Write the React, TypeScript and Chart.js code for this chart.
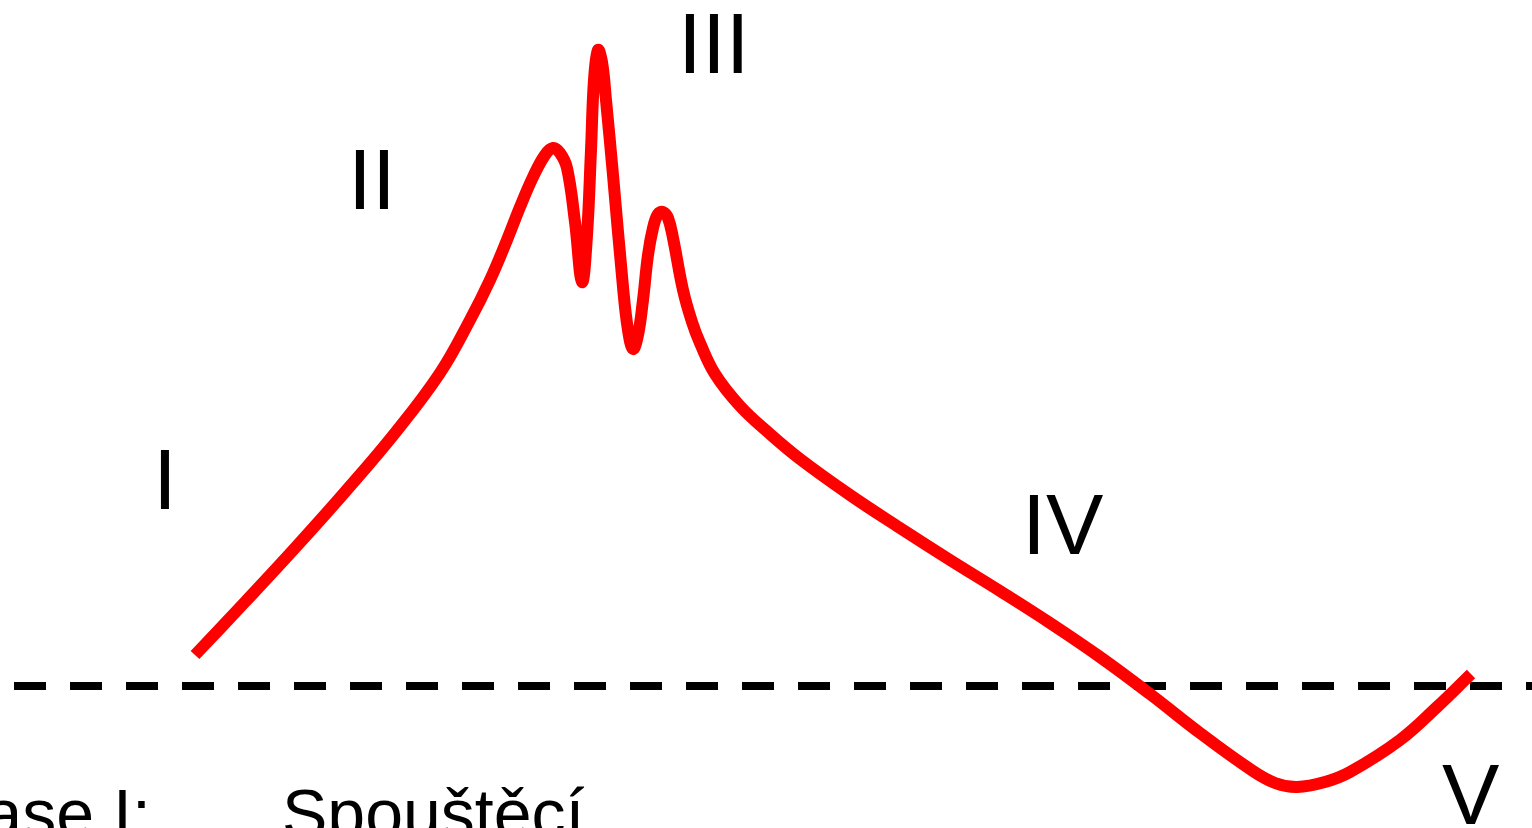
import { useEffect, useRef } from "react";
import { Chart, registerables } from "chart.js";

Chart.register(...registerables);

// Time axis (arbitrary units) and membrane potential relative to the resting line
const timeValues = [
  195, 245, 295, 345, 395, 440, 470, 490, 507, 520, 533, 545, 553, 560, 567, 575,
  582, 587, 591, 594, 598, 602, 606, 613, 623, 628, 633, 638, 643, 648, 653, 658,
  663, 668, 673, 683, 692, 700, 715, 740, 770, 800, 850, 900, 950, 1000, 1050, 1100,
  1150, 1200, 1250, 1275, 1297, 1325, 1350, 1400, 1437, 1471,
];
const potentialValues = [
  31, 84, 138, 194, 253, 313, 366, 406, 446, 479, 509, 531, 538, 533, 518, 464,
  404, 451, 536, 606, 636, 624, 586, 511, 399, 356, 337, 351, 386, 431, 458, 472,
  474, 468, 448, 396, 364, 343, 312, 280, 252, 227, 191, 158, 126, 95, 63, 29,
  -8, -47, -83, -97, -101, -96, -86, -54, -21, 12,
];

// Resting (zero) line
const baselineTime = [14, 1532];
const baselineValue = [0, 0];

// Phase labels
const phaseLabels = ["I", "II", "III", "IV", "V"];
const phaseLabelTime = [153, 348, 678, 1022, 1442];
const phaseLabelValue = [177, 477, 613, 132, -138];

// Caption line at the bottom
const captionTexts = ["Fase I:", "Spouštěcí"];
const captionTime = [-57, 282];
const captionValue = [-151, -151];

export default function App() {
  const canvasRef = useRef<HTMLCanvasElement | null>(null);

  useEffect(() => {
    document.body.style.margin = "0";
    document.body.style.overflow = "hidden";
    const canvas = canvasRef.current;
    if (!canvas) return;

    const textPlugin = {
      id: "phaseText",
      afterDatasetsDraw(chart: any) {
        const ctx = chart.ctx as CanvasRenderingContext2D;
        const xs = chart.scales.x;
        const ys = chart.scales.y;
        ctx.save();
        ctx.fillStyle = "#000000";
        ctx.textAlign = "left";
        ctx.textBaseline = "alphabetic";
        ctx.font = '86px "Liberation Sans", Arial, sans-serif';
        phaseLabels.forEach((t, i) => {
          ctx.fillText(t, xs.getPixelForValue(phaseLabelTime[i]), ys.getPixelForValue(phaseLabelValue[i]));
        });
        ctx.font = '68px "Liberation Sans", Arial, sans-serif';
        captionTexts.forEach((t, i) => {
          ctx.fillText(t, xs.getPixelForValue(captionTime[i]), ys.getPixelForValue(captionValue[i]));
        });
        ctx.restore();
      },
    };

    const chart = new Chart(canvas, {
      type: "line",
      data: {
        datasets: [
          {
            label: "Potential",
            data: timeValues.map((x, i) => ({ x, y: potentialValues[i] })),
            borderColor: "#ff0000",
            borderWidth: 12,
            borderCapStyle: "butt",
            borderJoinStyle: "round",
            tension: 0.4,
            pointRadius: 0,
            fill: false,
            clip: false,
            order: 0,
          } as any,
          {
            label: "Rest",
            data: baselineTime.map((x, i) => ({ x, y: baselineValue[i] })),
            borderColor: "#000000",
            borderWidth: 8,
            borderDash: [32, 24],
            borderCapStyle: "butt",
            pointRadius: 0,
            fill: false,
            clip: false,
            order: 1,
          } as any,
        ],
      },
      options: {
        animation: false,
        responsive: false,
        maintainAspectRatio: false,
        layout: { padding: 0 },
        plugins: {
          legend: { display: false },
          tooltip: { enabled: false },
          title: { display: false },
        },
        scales: {
          x: { type: "linear", min: 0, max: 1532, display: false },
          y: { type: "linear", min: -142, max: 686, display: false },
        },
        events: [],
      },
      plugins: [textPlugin],
    });

    return () => chart.destroy();
  }, []);

  return (
    <div style={{ width: 1532, height: 828, background: "#ffffff" }}>
      <canvas ref={canvasRef} width={1532} height={828} style={{ display: "block", width: 1532, height: 828 }} />
    </div>
  );
}
